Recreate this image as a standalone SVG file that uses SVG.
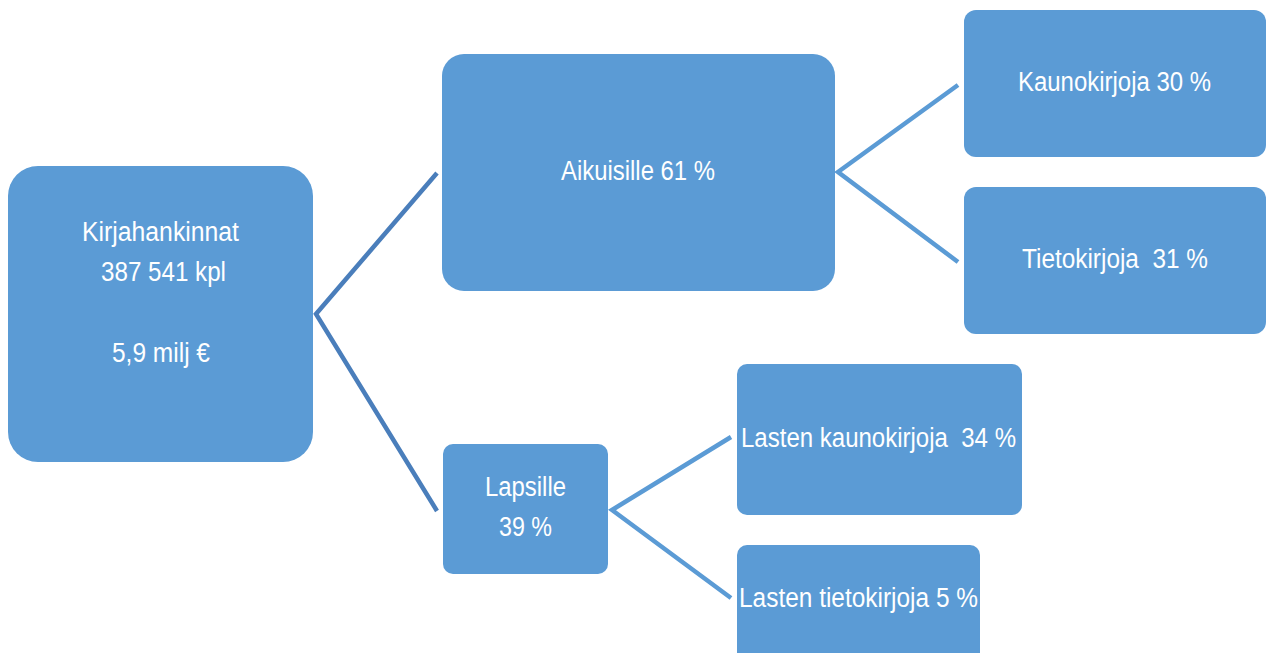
<svg xmlns="http://www.w3.org/2000/svg" width="1267" height="653" viewBox="0 0 1267 653">
<style>
.n{fill:#5B9BD5}
.t{fill:#ffffff;font-family:"Liberation Sans",Arial,sans-serif;font-size:27px;text-anchor:start}
.c1{stroke:#4A7EBB;stroke-width:4.5;fill:none}
.c2{stroke:#5B9BD5;stroke-width:4.5;fill:none}
</style>
<rect width="1267" height="653" fill="#ffffff"/>
<g id="connectors">
<polyline class="c1" points="437,173 316,314 437,511"/>
<polyline class="c2" points="958,85 838,172 958,262"/>
<polyline class="c2" points="731,437 612,510 731,598"/>
</g>
<g id="root">
<rect class="n" x="8" y="166" width="305" height="296" rx="30"/>
<text class="t" x="82" y="241" textLength="157" lengthAdjust="spacingAndGlyphs">Kirjahankinnat</text>
<text class="t" x="101" y="281" textLength="125" lengthAdjust="spacingAndGlyphs">387 541 kpl</text>
<text class="t" x="112" y="362" textLength="98" lengthAdjust="spacingAndGlyphs">5,9 milj €</text>
</g>
<g id="aikuisille">
<rect class="n" x="442" y="54" width="393" height="237" rx="22"/>
<text class="t" x="561" y="180" textLength="154" lengthAdjust="spacingAndGlyphs">Aikuisille 61 %</text>
</g>
<g id="kaunokirjoja">
<rect class="n" x="964" y="10" width="302" height="147" rx="12"/>
<text class="t" x="1018" y="91" textLength="193" lengthAdjust="spacingAndGlyphs">Kaunokirjoja 30 %</text>
</g>
<g id="tietokirjoja">
<rect class="n" x="964" y="187" width="302" height="147" rx="12"/>
<text class="t" x="1022" y="268" textLength="186" lengthAdjust="spacingAndGlyphs" xml:space="preserve">Tietokirjoja  31 %</text>
</g>
<g id="lapsille">
<rect class="n" x="443" y="444" width="165" height="130" rx="10"/>
<text class="t" x="485" y="496" textLength="81" lengthAdjust="spacingAndGlyphs">Lapsille</text>
<text class="t" x="499" y="536" textLength="53" lengthAdjust="spacingAndGlyphs">39 %</text>
</g>
<g id="lasten-kaunokirjoja">
<rect class="n" x="737" y="364" width="285" height="151" rx="10"/>
<text class="t" x="741" y="447" textLength="275" lengthAdjust="spacingAndGlyphs" xml:space="preserve">Lasten kaunokirjoja  34 %</text>
</g>
<g id="lasten-tietokirjoja">
<rect class="n" x="737" y="545" width="243" height="120" rx="10"/>
<text class="t" x="739" y="607" textLength="239" lengthAdjust="spacingAndGlyphs">Lasten tietokirjoja 5 %</text>
</g>
</svg>
